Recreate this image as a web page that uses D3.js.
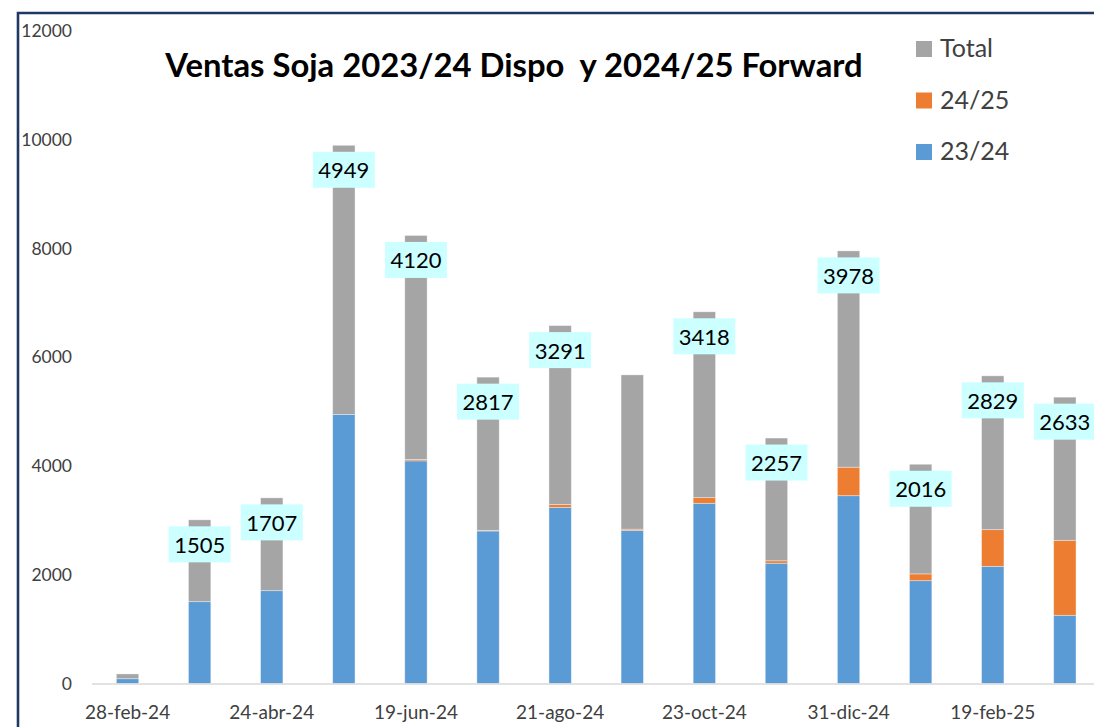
<!DOCTYPE html>
<html>

<head>
  <meta charset="utf-8">
  <style>
    body {
      margin: 0;
      background: #fff;
    }

    text {
      font-family: Lato, "Open Sans", sans-serif;
    }

    .tick text {
      fill: #404040;
    }
  </style>
</head>

<body>
  <svg id="chart" width="1094" height="727"></svg>

  <script src="https://d3js.org/d3.v7.min.js"></script>
  <script>
    // fechas del eje (solo se muestra una de cada dos)
    const fechas = ["28-feb-24", "27-mar-24", "24-abr-24", "22-may-24", "19-jun-24", "24-jul-24", "21-ago-24",
      "25-sep-24", "23-oct-24", "27-nov-24", "31-dic-24", "29-ene-25", "19-feb-25", "19-mar-25"]

    // ventas por campaña
    const ventas2324 = [88, 1505, 1707, 4949, 4095, 2805, 3240, 2816, 3314, 2212, 3454, 1891, 2155, 1254]
    const ventas2425 = [0, 0, 0, 0, 25, 12, 51, 22, 104, 45, 524, 125, 674, 1379]
    const ventasTotal = [88, 1505, 1707, 4949, 4120, 2817, 3291, 2838, 3418, 2257, 3978, 2016, 2829, 2633]

    // etiquetas visibles sobre la serie Total
    const mostrarEtiqueta = [false, true, true, true, true, true, true, false, true, true, true, true, true, true]

    const yTicks = [0, 2000, 4000, 6000, 8000, 10000, 12000]

    const series = ["23/24", "24/25", "Total"]
    const colores = ["#5b9bd5", "#ed7d31", "#a5a5a5"]

    let rows = fechas.map(function(f, i) {
      return {
        fecha: f,
        "23/24": ventas2324[i],
        "24/25": ventas2425[i],
        "Total": ventasTotal[i]
      }
    })

    let svg = d3.select("#chart")

    // marco
    svg.append("path")
      .attr("d", "M18,740V13H1110")
      .attr("fill", "none")
      .attr("stroke", "#1f3864")
      .attr("stroke-width", 2.6)

    let x = d3.scaleBand()
      .domain(fechas)
      .range([91.5, 91.5 + 72.1 * fechas.length])
      .paddingInner(0.69)
      .paddingOuter(0.345)

    let y = d3.scaleLinear()
      .domain([0, 12000])
      .range([683.5, 31])

    let color = d3.scaleOrdinal()
      .domain(series)
      .range(colores)

    // eje y
    let yAxis = svg.append("g")
      .attr("transform", "translate(72,0)")
      .call(d3.axisLeft(y).tickValues(yTicks).tickFormat(d3.format("d")).tickSize(0).tickPadding(0))
    yAxis.select(".domain").remove()
    yAxis.selectAll("text")
      .style("font-size", "17.5px")

    let stacked = d3.stack().keys(series)(rows)

    svg.append("g")
      .selectAll("g")
      .data(stacked)
      .join("g")
      .attr("fill", d => color(d.key))
      .selectAll("rect")
      .data(d => d)
      .join("rect")
      .attr("x", d => x(d.data.fecha))
      .attr("y", d => y(d[1]))
      .attr("width", x.bandwidth())
      .attr("height", d => y(d[0]) - y(d[1]))
      .attr("stroke", "#fff")
      .attr("stroke-opacity", 0.45)
      .attr("stroke-width", 0.8)

    // eje x
    let xAxis = svg.append("g")
      .attr("transform", "translate(0," + y(0) + ")")
      .call(d3.axisBottom(x).tickSize(0).tickPadding(22)
        .tickFormat((d, i) => i % 2 === 0 ? d : ""))
    xAxis.select(".domain")
      .attr("stroke", "#d9d9d9")
      .attr("stroke-width", 1.5)
    xAxis.selectAll("text")
      .style("font-size", "19px")

    // etiquetas de datos (Total)
    let topTotal = stacked[2]
    let labels = svg.append("g")
      .selectAll("g")
      .data(topTotal.filter((d, i) => mostrarEtiqueta[i]))
      .join("g")
      .attr("transform", d => "translate(" + (x(d.data.fecha) + x.bandwidth() / 2) + "," + y(d[1]) + ")")

    labels.append("rect")
      .attr("x", -31)
      .attr("y", 6.5)
      .attr("width", 62)
      .attr("height", 36)
      .attr("fill", "#ccffff")

    labels.append("text")
      .attr("y", 33)
      .attr("text-anchor", "middle")
      .style("font-size", "22px")
      .attr("fill", "#000")
      .text(d => d.data.Total)

    // titulo
    svg.append("text")
      .attr("x", 514)
      .attr("y", 77)
      .attr("text-anchor", "middle")
      .style("font-size", "32.8px")
      .style("font-weight", "bold")
      .style("white-space", "pre")
      .attr("fill", "#000")
      .text("Ventas Soja 2023/24 Dispo  y 2024/25 Forward")

    // leyenda
    let legend = svg.append("g")
      .selectAll("g")
      .data(series.slice().reverse())
      .join("g")
      .attr("transform", (d, i) => "translate(916," + (41 + i * 51.5) + ")")

    legend.append("rect")
      .attr("width", 16)
      .attr("height", 16)
      .attr("fill", d => color(d))

    legend.append("text")
      .attr("x", 24)
      .attr("y", 16)
      .style("font-size", "25px")
      .attr("fill", "#404040")
      .text(d => d)
  </script>
</body>

</html>
